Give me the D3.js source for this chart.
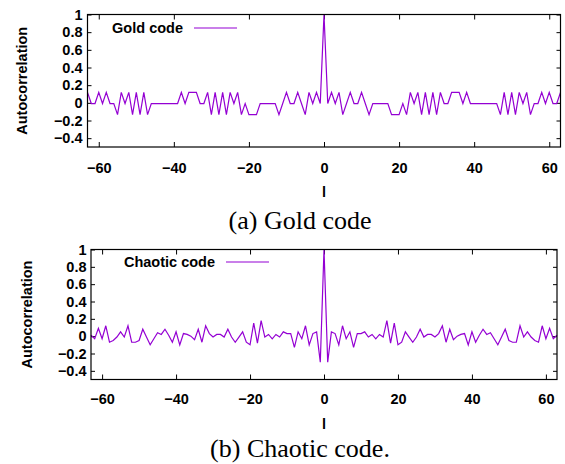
<!DOCTYPE html>
<html lang="en">
<head>
  <meta charset='utf-8'>
  <title>Autocorrelation</title>

  <style>
    body { margin: 0; background: #fff; }
    svg { display: block; }
    .tick text { font-family: "Liberation Sans", Arial, sans-serif; font-weight: bold; font-size: 14.5px; fill: #000; }
    .tick line { stroke: #000; }
    .label { font-family: "Liberation Sans", Arial, sans-serif; font-weight: bold; font-size: 14.5px; fill: #000; }
    .caption { font-family: "Liberation Serif", "Times New Roman", serif; font-size: 26px; fill: #000; }
  </style>
</head>
<body>

  <div id="chart"></div>

<script src="https://cdn.jsdelivr.net/npm/d3@7"></script>

<script>

  ////////////////////////////////////////////////// DATA

  // lag index l, from -63 to 63
  var lags = d3.range(-63, 64);

  var yTicks = [-0.4, -0.2, 0, 0.2, 0.4, 0.6, 0.8, 1];
  var xTicks = [-60, -40, -20, 0, 20, 40, 60];

  // Gold code autocorrelation (three levels + peak at l = 0)
  var goldValues = [
     0.118, -0.008, -0.008,  0.118, -0.008,  0.118, -0.008, -0.008, -0.134,  0.118,
    -0.008,  0.118, -0.134,  0.118, -0.134,  0.118, -0.134, -0.008, -0.008, -0.008,
    -0.008, -0.008, -0.008, -0.008, -0.008,  0.118, -0.008,  0.118,  0.118,  0.118,
    -0.008, -0.008,  0.118, -0.134,  0.118, -0.134,  0.118, -0.134,  0.118, -0.008,
     0.118, -0.134, -0.008, -0.134, -0.134, -0.134, -0.008, -0.008, -0.008, -0.008,
    -0.008, -0.134, -0.008,  0.118, -0.008, -0.008,  0.118, -0.008, -0.134,  0.118,
    -0.008,  0.118, -0.008,
     1,
    -0.008,  0.118, -0.008,
     0.118, -0.134, -0.008,  0.118, -0.008, -0.008,  0.118, -0.008, -0.134, -0.008,
    -0.008, -0.008, -0.008, -0.008, -0.134, -0.134, -0.134, -0.008, -0.134,  0.118,
    -0.008,  0.118, -0.134,  0.118, -0.134,  0.118, -0.134,  0.118, -0.008, -0.008,
     0.118,  0.118,  0.118, -0.008,  0.118, -0.008, -0.008, -0.008, -0.008, -0.008,
    -0.008, -0.008, -0.008, -0.134,  0.118, -0.134,  0.118, -0.134,  0.118, -0.008,
     0.118, -0.134, -0.008, -0.008,  0.118, -0.008,  0.118, -0.008, -0.008,  0.118
  ];

  // Chaotic code autocorrelation
  var chaoticValues = [
     0.01, -0.03,  0.09, -0.03,  0.12, -0.07, -0.05, -0.01,  0.05, -0.01,
     0.12, -0.07, -0.07, -0.05,  0.08, -0.01, -0.10, -0.03,  0.04,  0.02,
     0.08,  0.01, -0.07,  0.05, -0.10,  0.03,  0.02,  0.00, -0.04,  0.08,
    -0.07,  0.12,  0.03, -0.01,  0.02,  0.02, -0.01,  0.08, -0.01, -0.07,
    -0.01,  0.05, -0.07, -0.10,  0.15, -0.08,  0.18, -0.01,  0.02, -0.03,
     0.02, -0.01,  0.05,  0.03,  0.03, -0.13,  0.05, -0.03,  0.12, -0.10,
     0.03,  0.05, -0.30,
     1,
    -0.30,  0.05,  0.03,
    -0.10,  0.12, -0.03,  0.05, -0.13,  0.03,  0.03,  0.05, -0.01,  0.02,
    -0.03,  0.02, -0.01,  0.18, -0.08,  0.15, -0.10, -0.07,  0.05, -0.01,
    -0.07, -0.01,  0.08, -0.01,  0.02,  0.02, -0.01,  0.03,  0.12, -0.07,
     0.08, -0.04,  0.00,  0.02,  0.03, -0.10,  0.05, -0.07,  0.01,  0.08,
     0.02,  0.04, -0.03, -0.10, -0.01,  0.08, -0.05, -0.07, -0.07,  0.12,
    -0.01,  0.05, -0.01, -0.05, -0.07,  0.12, -0.03,  0.09, -0.03,  0.01
  ];

  ////////////////////////////////////////////////// SETUP

  var lineColor = "#9400d3";

  var svg = d3.select("#chart").append("svg")
    .attr("width", 565)
    .attr("height", 464);

  // panel (a)
  AutoPlot({
    values: goldValues, name: "Gold code", caption: "(a) Gold code",
    left: 87.5, right: 560.5, top: 14.5, bottom: 147,
    xPad: 15.5, yPad: 5, yLabelX: 22, keyRight: 183, keyY: 28,
    xLabelY: 197, captionY: 229
  });

  // panel (b)
  AutoPlot({
    values: chaoticValues, name: "Chaotic code", caption: "(b) Chaotic code.",
    left: 91, right: 557, top: 249.5, bottom: 379.5,
    xPad: 14.5, yPad: 4.5, yLabelX: 27, keyRight: 215, keyY: 262,
    xLabelY: 429, captionY: 457
  });

  ////////////////////////////////////////////////// FUNCTIONS

  function AutoPlot(p){

    var x = d3.scaleLinear().domain([-63, 63]).range([p.left, p.right]);
    var y = d3.scaleLinear().domain([-0.5, 1]).range([p.bottom, p.top]);

    var g = svg.append("g");

    // bottom axis with labels, ticks pointing inward
    g.append("g")
      .attr("transform", "translate(0," + p.bottom + ")")
      .call(d3.axisBottom(x).tickValues(xTicks).tickSizeInner(-5).tickSizeOuter(0).tickPadding(p.xPad))
      .call(function(a){ a.select(".domain").remove(); });

    // top mirror ticks
    g.append("g")
      .attr("transform", "translate(0," + p.top + ")")
      .call(d3.axisTop(x).tickValues(xTicks).tickSizeInner(-5).tickSizeOuter(0).tickFormat(""))
      .call(function(a){ a.select(".domain").remove(); });

    // left axis with labels
    g.append("g")
      .attr("transform", "translate(" + p.left + ",0)")
      .call(d3.axisLeft(y).tickValues(yTicks).tickSizeInner(-4).tickSizeOuter(0).tickPadding(p.yPad)
        .tickFormat(function(d){ return d3.format("")(+d.toFixed(1)); }))
      .call(function(a){ a.select(".domain").remove(); });

    // right mirror ticks
    g.append("g")
      .attr("transform", "translate(" + p.right + ",0)")
      .call(d3.axisRight(y).tickValues(yTicks).tickSizeInner(-4).tickSizeOuter(0).tickFormat(""))
      .call(function(a){ a.select(".domain").remove(); });

    g.selectAll(".tick text").attr("font-family", null).attr("font-size", null);

    // data line
    var line = d3.line()
      .x(function(d, i){ return x(lags[i]); })
      .y(function(d){ return y(d); });

    g.append("path")
      .datum(p.values)
      .attr("fill", "none")
      .attr("stroke", lineColor)
      .attr("stroke-width", 1.2)
      .attr("stroke-linejoin", "miter")
      .attr("d", line);

    // border
    g.append("rect")
      .attr("x", p.left)
      .attr("y", p.top)
      .attr("width", p.right - p.left)
      .attr("height", p.bottom - p.top)
      .attr("fill", "none")
      .attr("stroke", "#000")
      .attr("stroke-width", 1.2);

    // key
    g.append("text")
      .attr("class", "label")
      .attr("x", p.keyRight)
      .attr("y", p.keyY)
      .attr("dy", "0.35em")
      .attr("text-anchor", "end")
      .text(p.name);

    g.append("line")
      .attr("x1", p.keyRight + 11)
      .attr("x2", p.keyRight + 54)
      .attr("y1", p.keyY)
      .attr("y2", p.keyY)
      .attr("stroke", lineColor)
      .attr("stroke-width", 1.2);

    // axis labels
    g.append("text")
      .attr("class", "label")
      .attr("transform", "translate(" + p.yLabelX + "," + ((p.top + p.bottom) / 2) + ")rotate(-90)")
      .attr("text-anchor", "middle")
      .attr("dy", "0.35em")
      .text("Autocorrelation");

    g.append("text")
      .attr("class", "label")
      .attr("x", x(0))
      .attr("y", p.xLabelY)
      .attr("text-anchor", "middle")
      .text("l");

    g.append("text")
      .attr("class", "caption")
      .attr("x", 300)
      .attr("y", p.captionY)
      .attr("text-anchor", "middle")
      .text(p.caption);
  }

</script>
</body>
</html>
